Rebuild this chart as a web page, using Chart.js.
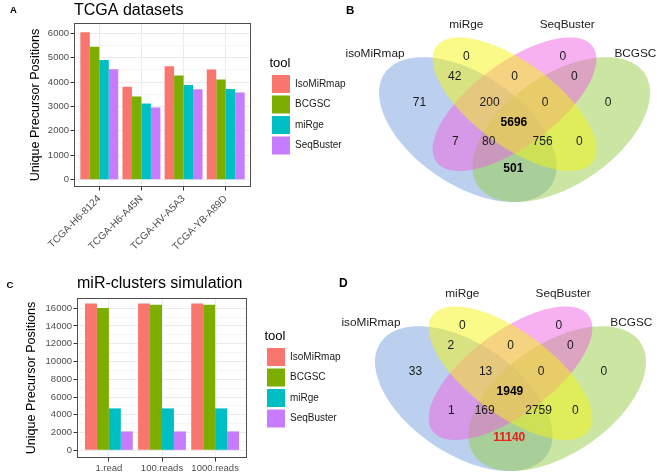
<!DOCTYPE html>
<html>
<head>
<meta charset="utf-8">
<script src="https://cdn.jsdelivr.net/npm/chart.js@4.4.1/dist/chart.umd.min.js"></script>
<style>
  html, body { margin: 0; padding: 0; background: #fff; }
  #wrap { position: relative; width: 660px; height: 476px; overflow: hidden; font-family: "Liberation Sans", Arial, Helvetica, sans-serif; }
  canvas { position: absolute; }
  .tag { position: absolute; font-weight: bold; line-height: 1; color: #000; }
</style>
</head>
<body>
<div id="wrap">
  <canvas id="chartA" width="380" height="260" style="left:0;top:0"></canvas>
  <canvas id="chartC" width="380" height="238" style="left:0;top:238px"></canvas>
  <canvas id="vennB" width="330" height="238" style="left:330px;top:0"></canvas>
  <canvas id="vennD" width="330" height="238" style="left:330px;top:238px"></canvas>
  <div class="tag" style="left:10px;top:5px;font-size:9.5px">A</div>
  <div class="tag" style="left:346px;top:5px;font-size:11.5px">B</div>
  <div class="tag" style="left:6.5px;top:279.5px;font-size:9.5px">C</div>
  <div class="tag" style="left:339px;top:277px;font-size:12px">D</div>
</div>
<script>
(() => {
  // ---- data ----
  const tools = ['IsoMiRmap', 'BCGSC', 'miRge', 'SeqBuster'];

  const tcgaSamples = ['TCGA-H6-8124', 'TCGA-H6-A45N', 'TCGA-HV-A5A3', 'TCGA-YB-A89D'];
  const tcgaIsoMiRmap = [6040, 3810, 4650, 4510];
  const tcgaBCGSC = [5450, 3410, 4270, 4110];
  const tcgaMiRge = [4900, 3120, 3880, 3720];
  const tcgaSeqBuster = [4520, 2960, 3710, 3570];
  const tcgaTicks = [0, 1000, 2000, 3000, 4000, 5000, 6000];

  const simReads = ['1.read', '100.reads', '1000.reads'];
  const simIsoMiRmap = [16520, 16520, 16520];
  const simBCGSC = [16020, 16380, 16380];
  const simMiRge = [4720, 4720, 4720];
  const simSeqBuster = [2130, 2130, 2130];
  const simTicks = [0, 2000, 4000, 6000, 8000, 10000, 12000, 14000, 16000];

  // venn regions: I = isoMiRmap, M = miRge, S = SeqBuster, B = BCGSC
  const vennSets = ['isoMiRmap', 'miRge', 'SeqBuster', 'BCGSC'];
  const vennRegions = ['M', 'S', 'IM', 'MS', 'SB', 'I', 'IMS', 'MSB', 'B', 'IMSB', 'IS', 'ISB', 'IMB', 'MB', 'IB'];
  const tcgaVenn = [0, 0, 42, 0, 0, 71, 200, 0, 0, 5696, 7, 80, 756, 0, 501];
  const simVenn = [0, 0, 2, 0, 0, 33, 13, 0, 0, 1949, 1, 169, 2759, 0, 11140];

  // ---- styles / layout ----
  const FONT = '"Liberation Sans", Arial, Helvetica, sans-serif';
  Chart.defaults.font.family = FONT;
  const toolColors = ['#F8766D', '#7CAE00', '#00BFC4', '#C77CFF'];

  const panelPlugin = {
    id: 'panel',
    afterDraw(chart, args, opts) {
      const { ctx, chartArea: a } = chart;
      ctx.save();
      ctx.strokeStyle = '#4d4d4d';
      ctx.lineWidth = 1;
      ctx.strokeRect(Math.round(a.left) + 0.5, Math.round(a.top) + 0.5, Math.round(a.width) - 1, Math.round(a.height) - 1);
      ctx.fillStyle = '#000';
      ctx.font = opts.size + 'px ' + FONT;
      ctx.textBaseline = 'alphabetic';
      ctx.textAlign = 'left';
      ctx.fillText(opts.text, a.left, opts.baseline);
      ctx.restore();
    }
  };

  function barPanel(id, cfg) {
    const minor = [];
    for (let i = 0; i < cfg.ticks.length - 1; i++) minor.push((cfg.ticks[i] + cfg.ticks[i + 1]) / 2);
    const allTicks = cfg.ticks.concat(minor).sort((p, q) => p - q);
    const isMajor = v => cfg.ticks.includes(v);
    const n = cfg.labels.length;

    return new Chart(document.getElementById(id), {
      type: 'bar',
      data: {
        datasets: cfg.series.map((vals, i) => ({
          label: tools[i],
          data: vals.map((v, k) => ({ x: k + 1, y: v })),
          backgroundColor: toolColors[i],
          borderWidth: 0,
          categoryPercentage: 0.9,
          barPercentage: 1
        }))
      },
      options: {
        responsive: false,
        animation: false,
        events: [],
        layout: { padding: { left: 0, top: cfg.top, right: cfg.padRight, bottom: 0 } },
        scales: {
          x: {
            type: 'linear',
            offset: false,
            min: 0.4,
            max: n + 0.6,
            afterBuildTicks: s => { s.ticks = cfg.labels.map((_, i) => ({ value: i + 1 })); },
            afterFit: s => { s.height = cfg.xAxisH; },
            border: { display: false },
            grid: { offset: false, color: '#ebebeb', tickColor: '#333', tickLength: 3.5 },
            ticks: {
              autoSkip: false, minRotation: cfg.rot, maxRotation: cfg.rot, padding: cfg.xPad,
              color: '#4d4d4d', font: { size: cfg.xFont },
              callback: v => cfg.labels[v - 1]
            }
          },
          y: {
            min: cfg.yMin,
            max: cfg.yMax,
            afterBuildTicks: s => { s.ticks = allTicks.map(v => ({ value: v })); },
            afterFit: s => { s.width = cfg.axisW; },
            border: { display: false },
            grid: {
              color: c => (c.tick && isMajor(c.tick.value)) ? '#ebebeb' : '#f5f5f5',
              tickColor: c => (c.tick && isMajor(c.tick.value)) ? '#333' : 'rgba(0,0,0,0)',
              tickLength: 3.5
            },
            ticks: {
              autoSkip: false, padding: 1.5, color: '#4d4d4d', font: { size: 9.5 },
              callback: v => isMajor(v) ? String(v) : ''
            },
            title: {
              display: true, text: 'Unique Precursor Positions', color: '#000',
              font: { size: 12.6 }, padding: { top: cfg.yTitlePad, bottom: 0 }
            }
          },
          gap: {
            type: 'linear', position: 'right', display: true,
            grid: { display: false, drawTicks: false },
            border: { display: false },
            ticks: { display: false },
            afterFit: s => { s.width = cfg.gap; }
          }
        },
        plugins: {
          legend: {
            position: 'right', align: 'center', fullSize: false, maxWidth: 80,
            title: {
              display: true, text: 'tool', position: 'start', color: '#000',
              font: { size: 13 }, padding: { top: 3.5, bottom: 0.4 }
            },
            labels: { boxWidth: 18, boxHeight: 18, padding: 2.5, color: '#1a1a1a', font: { size: 10 } }
          },
          tooltip: { enabled: false },
          panel: { text: cfg.title, baseline: cfg.titleBaseline, size: 16 }
        }
      },
      plugins: [panelPlugin]
    });
  }

  barPanel('chartA', {
    labels: tcgaSamples,
    series: [tcgaIsoMiRmap, tcgaBCGSC, tcgaMiRge, tcgaSeqBuster],
    ticks: tcgaTicks,
    yMin: -300, yMax: 6420,
    top: 23, xAxisH: 73, axisW: 74, yTitlePad: 28, gap: 18.5, padRight: 30.5,
    rot: 45, xFont: 10, xPad: 2.5, title: 'TCGA datasets', titleBaseline: 15
  });

  barPanel('chartC', {
    labels: simReads,
    series: [simIsoMiRmap, simBCGSC, simMiRge, simSeqBuster],
    ticks: simTicks,
    yMin: -860, yMax: 17140,
    top: 60, xAxisH: 18, axisW: 77, yTitlePad: 24.4, gap: 17.5, padRight: 35.5,
    rot: 0, xFont: 9.5, xPad: 1, title: 'miR-clusters simulation', titleBaseline: 50
  });

  // ---- venn diagrams ----
  const vennShapes = [
    { cx: 0.35, cy: 0.47, a: 0.35, b: 0.20, rot: 135, fill: 'rgba(120,160,222,0.5)' },  // isoMiRmap
    { cx: 0.65, cy: 0.47, a: 0.35, b: 0.20, rot: 45, fill: 'rgba(150,205,70,0.5)' },     // BCGSC
    { cx: 0.50, cy: 0.57, a: 0.34, b: 0.15, rot: 45, fill: 'rgba(240,100,225,0.5)' },    // SeqBuster
    { cx: 0.50, cy: 0.57, a: 0.34, b: 0.15, rot: 135, fill: 'rgba(245,245,20,0.5)' }     // miRge
  ];
  const vennNameAt = [[0.052, 0.769], [0.345, 0.883], [0.669, 0.883], [0.888, 0.769]];
  const vennRegionAt = {
    M: [0.345, 0.756], S: [0.655, 0.756],
    IM: [0.308, 0.677], MS: [0.500, 0.677], SB: [0.692, 0.677],
    I: [0.195, 0.575], IMS: [0.420, 0.575], MSB: [0.598, 0.575], B: [0.800, 0.575],
    IMSB: [0.498, 0.496],
    IS: [0.310, 0.421], ISB: [0.417, 0.421], IMB: [0.590, 0.421], MB: [0.708, 0.421],
    IB: [0.496, 0.315]
  };

  const vennPlugin = {
    id: 'venn',
    beforeDatasetsDraw(chart) {
      const { ctx, scales: { x, y } } = chart;
      ctx.save();
      vennShapes.forEach(s => {
        const r = s.rot * Math.PI / 180;
        ctx.beginPath();
        for (let k = 0; k <= 160; k++) {
          const t = k / 160 * 2 * Math.PI;
          const ex = s.cx + s.a * Math.cos(t) * Math.cos(r) - s.b * Math.sin(t) * Math.sin(r);
          const ey = s.cy + s.a * Math.cos(t) * Math.sin(r) + s.b * Math.sin(t) * Math.cos(r);
          const px = x.getPixelForValue(ex), py = y.getPixelForValue(ey);
          if (k) ctx.lineTo(px, py); else ctx.moveTo(px, py);
        }
        ctx.closePath();
        ctx.fillStyle = s.fill;
        ctx.fill();
      });
      ctx.restore();
    },
    afterDatasetsDraw(chart, args, opts) {
      const { ctx, scales: { x, y } } = chart;
      const ds = chart.data.datasets[0];
      const meta = chart.getDatasetMeta(0);
      ctx.save();
      ctx.textAlign = 'center';
      ctx.textBaseline = 'middle';
      meta.data.forEach((pt, i) => {
        const key = ds.data[i].region;
        const hl = opts.highlight[key];
        ctx.font = (hl ? 'bold ' : '') + '12px ' + FONT;
        ctx.fillStyle = hl || '#1a1a1a';
        ctx.fillText(String(ds.data[i].count), pt.x, pt.y);
      });
      ctx.font = '11.8px ' + FONT;
      ctx.fillStyle = '#1a1a1a';
      vennSets.forEach((name, i) => {
        ctx.fillText(name, x.getPixelForValue(vennNameAt[i][0]), y.getPixelForValue(vennNameAt[i][1]));
      });
      ctx.restore();
    }
  };

  function vennPanel(id, counts, view, highlight) {
    return new Chart(document.getElementById(id), {
      type: 'scatter',
      data: {
        datasets: [{
          data: vennRegions.map((r, i) => ({ x: vennRegionAt[r][0], y: vennRegionAt[r][1], region: r, count: counts[i] })),
          pointRadius: 0,
          pointHoverRadius: 0
        }]
      },
      options: {
        responsive: false,
        animation: false,
        events: [],
        layout: { padding: 0 },
        scales: {
          x: { type: 'linear', display: false, min: view.x0, max: view.x1 },
          y: { type: 'linear', display: false, min: view.y0, max: view.y1 }
        },
        plugins: {
          legend: { display: false },
          tooltip: { enabled: false },
          venn: { highlight }
        }
      },
      plugins: [vennPlugin]
    });
  }

  vennPanel('vennB', tcgaVenn, { x0: -0.0925, x1: 0.967, y0: 0.0433, y1: 0.980 }, { IMSB: '#000', IB: '#000' });
  vennPanel('vennD', simVenn, { x0: -0.0796, x1: 0.980, y0: 0.1654, y1: 1.1024 }, { IMSB: '#000', IB: '#e32219' });
})();
</script>
</body>
</html>
